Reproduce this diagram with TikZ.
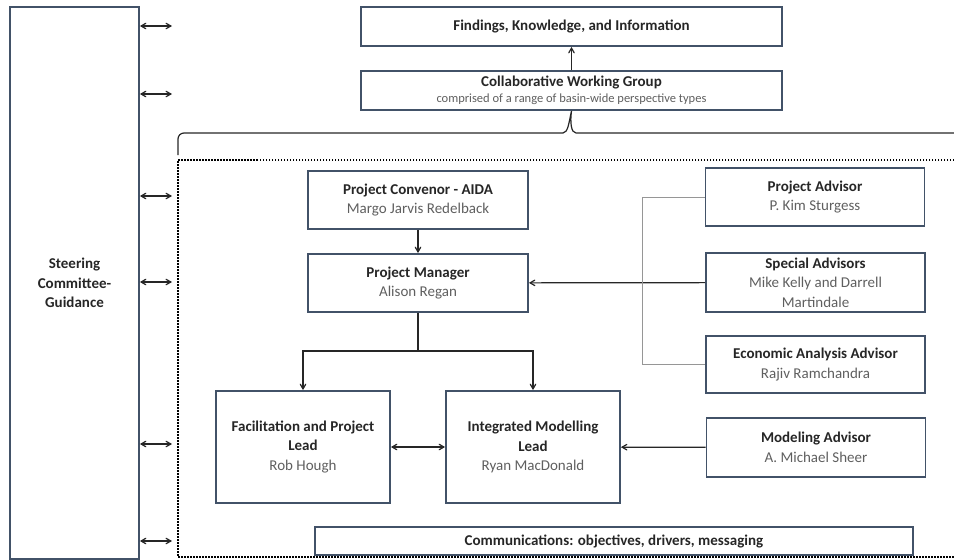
\documentclass[tikz,border=0pt]{standalone}
\usepackage{fontspec}
\setmainfont{Carlito}
\usepackage{tikz}
\usetikzlibrary{shapes,arrows,positioning}
\definecolor{boxline}{RGB}{66,82,104}
\definecolor{titlegrey}{RGB}{38,38,38}
\definecolor{namegrey}{RGB}{95,95,95}
\definecolor{linkgrey}{RGB}{150,150,150}

\begin{document}
\begin{tikzpicture}[x=1pt, y=-1pt, auto]
	\tikzstyle{block} = [rectangle, draw=boxline, line width=1.8pt, inner sep=2pt,
	align=center, text=titlegrey, font=\fontsize{15}{19.5}\selectfont]
	\tikzstyle{line} = [draw, -angle 60, line width=1.2pt, titlegrey]
	\tikzstyle{both} = [draw, angle 60-angle 60, line width=1.2pt, titlegrey]
	\useasboundingbox (0,0) rectangle (954,560);
	% Place nodes
	\node [block, minimum width=129, minimum height=552] (steer) at (74.5,283)
	{\textbf{Steering}\\\textbf{Committee-}\\\textbf{Guidance}};
	\node [block, minimum width=421, minimum height=39] (find) at (571.5,26.5)
	{\textbf{Findings, Knowledge, and Information}};
	\node [block, minimum width=421, minimum height=39] (cwg) at (571.5,90.5)
	{\textbf{Collaborative Working Group}\\[-4pt]{\fontsize{12.5}{13}\selectfont\color{namegrey}comprised of a range of basin-wide perspective types}};
	\node [block, minimum width=220, minimum height=58] (conv) at (418,200)
	{\textbf{Project Convenor - AIDA}\\{\color{namegrey}Margo Jarvis Redelback}};
	\node [block, minimum width=220, minimum height=58] (pm) at (418,283)
	{\textbf{Project Manager}\\{\color{namegrey}Alison Regan}};
	\node [block, minimum width=174, minimum height=112] (fac) at (303,447)
	{\textbf{Facilitation and Project}\\\textbf{Lead}\\{\color{namegrey}Rob Hough}};
	\node [block, minimum width=174, minimum height=112] (intm) at (533,447)
	{\textbf{Integrated Modelling}\\\textbf{Lead}\\{\color{namegrey}Ryan MacDonald}};
	\node [block, minimum width=219, minimum height=58] (padv) at (815,197)
	{\textbf{Project Advisor}\\{\color{namegrey}P. Kim Sturgess}};
	\node [block, minimum width=219, minimum height=59] (spec) at (815.5,282.5)
	{\textbf{Special Advisors}\\{\color{namegrey}Mike Kelly and Darrell}\\{\color{namegrey}Martindale}};
	\node [block, minimum width=219, minimum height=57] (econ) at (815.5,364.5)
	{\textbf{Economic Analysis Advisor}\\{\color{namegrey}Rajiv Ramchandra}};
	\node [block, minimum width=219, minimum height=59] (madv) at (816,447.5)
	{\textbf{Modeling Advisor}\\{\color{namegrey}A. Michael Sheer}};
	\node [block, minimum width=598, minimum height=28] (comm) at (614,541)
	{\textbf{Communications: objectives, drivers, messaging}};
	% Project team frame and brace
	\draw [line width=1.5pt, dash pattern=on 1.5pt off 1.5pt] (954,160) -- (178,160) -- (178,557) -- (954,557);
	\draw [line width=1.2pt, titlegrey, rounded corners=6pt] (178,155) -- (178,133) -- (563,133);
	\draw [line width=1.2pt, titlegrey] (563,133) .. controls (568,133) and (569,122) .. (cwg.south)
	.. controls (570,122) and (571,133) .. (576,133) -- (954,133);
	% Draw edges
	\foreach \y [count=\i] in {26,94,196,282,444,541} {
		\coordinate (g\i) at (172,\y);
		\path [both] (steer.east |- g\i) -- (g\i);
	}
	\path [line] (cwg) -- (find);
	\path [line] (conv) -- (pm);
	\path [line] (pm.south) -- ++(0,38) -| (fac.north);
	\path [line] (pm.south) -- ++(0,38) -| (intm.north);
	\path [both] (fac) -- (intm);
	\path [line] (spec) -- (pm);
	\path [line] (madv) -- (intm);
	\draw [linkgrey, line width=1pt] (padv.west) -- ++(-62,0) |- (econ.west);
\end{tikzpicture}
\end{document}
